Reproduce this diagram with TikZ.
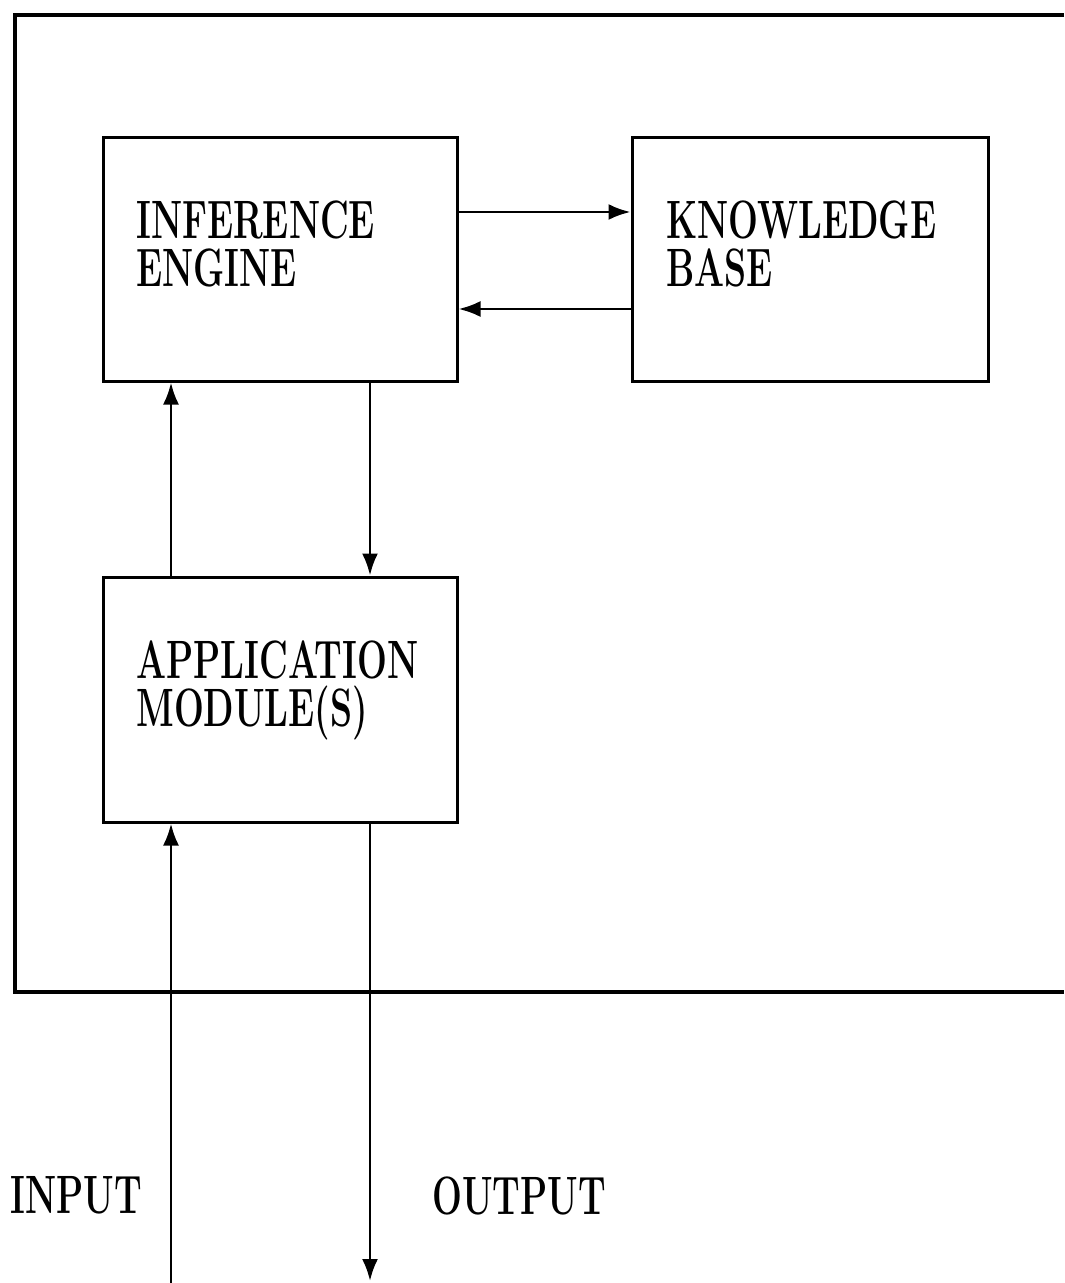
\documentclass[tikz,border=0pt]{standalone}
\usetikzlibrary{arrows.meta}
\begin{document}
\begin{tikzpicture}[x=0.5pt,y=-0.5pt,
  box/.style={draw, line width=1.5pt, minimum width=177pt, minimum height=121.5pt, inner sep=0pt},
  frame/.style={line width=2pt},
  arr/.style={line width=1.4pt, -{Latex[length=11pt,width=8pt]}},
  lbl/.style={font=\fontsize{27}{24}\selectfont\bfseries, xscale=0.655, inner sep=0pt,
    align=left, anchor=north west}]
\useasboundingbox (0,0) rectangle (1064,1283);
% outer frame (open to the right)
\coordinate (fTR) at (1064,15);
\coordinate (fTL) at (15,15);
\coordinate (fBL) at (15,992);
\coordinate (fBR) at (1064,992);
\draw[frame, line join=miter] (fTR) -- (fTL) -- (fBL) -- (fBR);
% boxes
\node[box] (IE) at (280,259.5) {};
\node[box, minimum width=178pt] (KB) at (810,259.5) {};
\node[box, minimum height=122.5pt] (AM) at (280,699.5) {};
% labels
\node[lbl] (ie) at (136,200) {INFERENCE\\ENGINE};
\node[lbl] (kb) at (666,200) {KNOWLEDGE\\BASE};
\node[lbl] (am) at (136,640) {APPLICATION\\MODULE(S)};
\node[lbl] (inp) at (10,1176) {INPUT};
\node[lbl] (outp) at (432,1176) {OUTPUT};
% helper coordinates
\coordinate (yA) at (0,212);
\coordinate (yB) at (0,309);
\coordinate (xL) at (171,0);
\coordinate (xR) at (370,0);
\coordinate (inbot) at (171,1283);
\coordinate (outbot) at (370,1281);
% connectors
\draw[arr] (IE.east |- yA) -- (KB.west |- yA);
\draw[arr] (KB.west |- yB) -- (IE.east |- yB);
\draw[arr] (xL |- AM.north) -- (xL |- IE.south);
\draw[arr] (xR |- IE.south) -- (xR |- AM.north);
\draw[arr] (inbot) -- (inbot |- AM.south);
\draw[arr] (outbot |- AM.south) -- (outbot);
\end{tikzpicture}
\end{document}
